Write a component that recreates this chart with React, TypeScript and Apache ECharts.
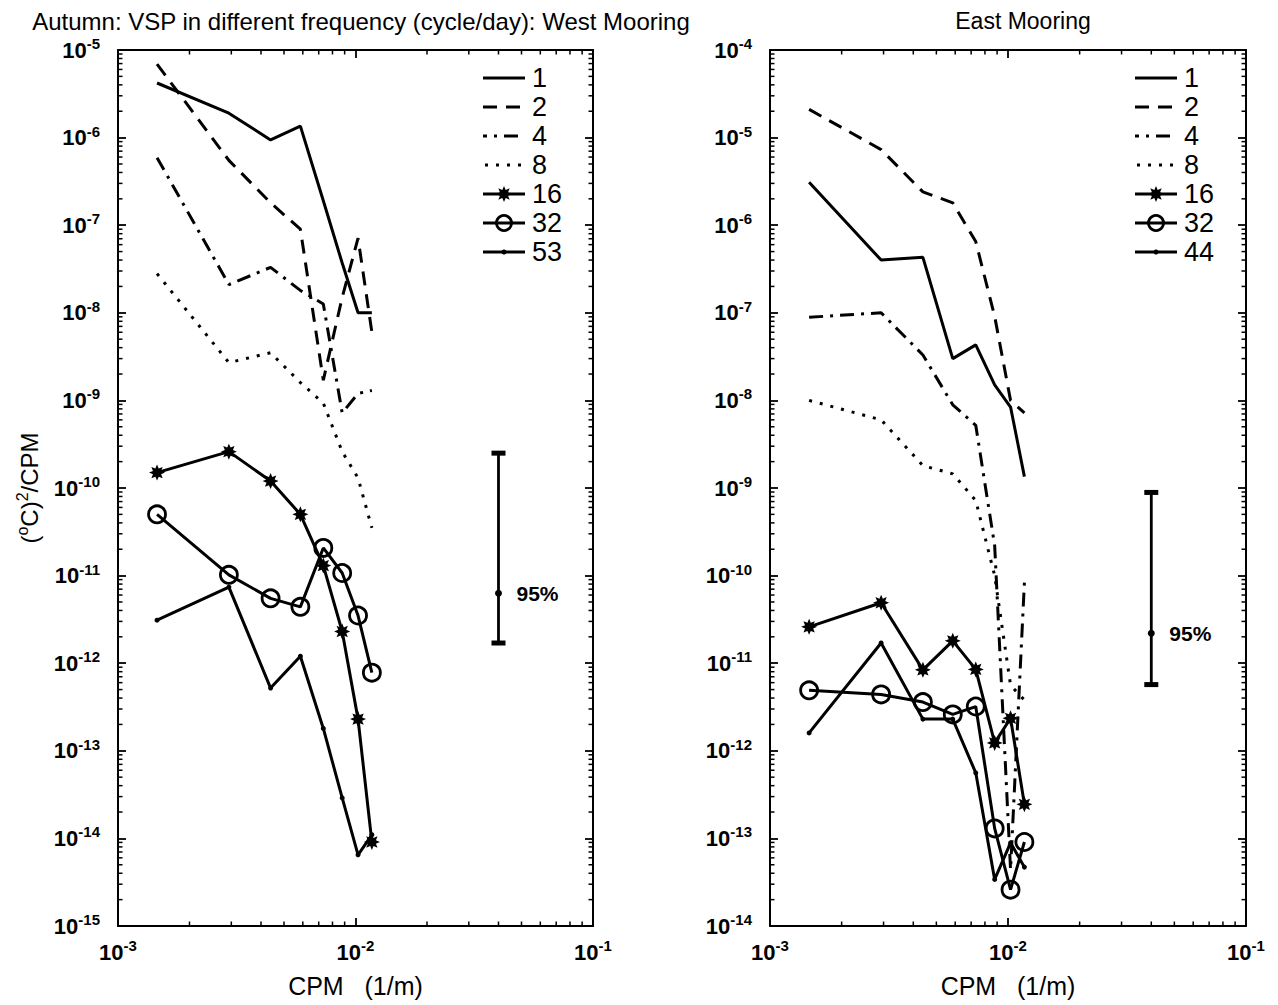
import React, { useEffect, useRef } from 'react';
import * as echarts from 'echarts';

// ---------- data ----------
const cpm = [0.00146, 0.00293, 0.00439, 0.00586, 0.00732, 0.00879, 0.01025, 0.01172];

const westNames = ['1', '2', '4', '8', '16', '32', '53'];
const west1 = [4.2e-6, 1.9e-6, 9.4e-7, 1.35e-6, 1.9e-7, 3.7e-8, 1.0e-8, 1.0e-8];
const west2 = [6.9e-6, 5.5e-7, 1.8e-7, 9.0e-8, 1.7e-9, 1.5e-8, 7.1e-8, 6.0e-9];
const west4 = [5.9e-7, 2.1e-8, 3.3e-8, 1.8e-8, 1.26e-8, 7.2e-10, 1.2e-9, 1.3e-9];
const west8 = [2.8e-8, 2.7e-9, 3.5e-9, 1.6e-9, 9.3e-10, 2.6e-10, 1.3e-10, 3.5e-11];
const west16 = [1.5e-10, 2.6e-10, 1.2e-10, 5.0e-11, 1.3e-11, 2.3e-12, 2.3e-13, 9.1e-15];
const west32 = [5.0e-11, 1.02e-11, 5.5e-12, 4.4e-12, 2.07e-11, 1.07e-11, 3.5e-12, 7.8e-13];
const west53 = [3.1e-12, 7.4e-12, 5.2e-13, 1.2e-12, 1.8e-13, 2.9e-14, 6.5e-15, 1.1e-14];

const eastNames = ['1', '2', '4', '8', '16', '32', '44'];
const east1 = [3.1e-6, 4.0e-7, 4.3e-7, 3.0e-8, 4.3e-8, 1.5e-8, 8.4e-9, 1.35e-9];
const east2 = [2.1e-5, 7.3e-6, 2.4e-6, 1.8e-6, 6.5e-7, 9.1e-8, 1.0e-8, 7.2e-9];
const east4 = [8.9e-8, 1.0e-7, 3.3e-8, 8.9e-9, 5.2e-9, 2.2e-10, 4.4e-14, 8.3e-11];
const east8 = [1.0e-8, 6.0e-9, 1.8e-9, 1.45e-9, 7.2e-10, 1.0e-10, 5.6e-12, 3.8e-12];
const east16 = [2.6e-11, 4.9e-11, 8.4e-12, 1.8e-11, 8.5e-12, 1.23e-12, 2.35e-12, 2.45e-13];
const east32 = [4.9e-12, 4.4e-12, 3.6e-12, 2.6e-12, 3.2e-12, 1.3e-13, 2.6e-14, 9.1e-14];
const east44 = [1.6e-12, 1.7e-11, 2.3e-12, 2.3e-12, 5.6e-13, 3.4e-14, 8.9e-14, 4.7e-14];

// 95% confidence bars: [x, low, high, centre]
const errWest = [0.04, 1.7e-12, 2.5e-10, 6.3e-12];
const errEast = [0.04, 5.7e-12, 8.9e-10, 2.2e-11];

const xRange = [1e-3, 1e-1];
const westYRange = [1e-15, 1e-5];
const eastYRange = [1e-14, 1e-4];
const minorMantissas = [2, 3, 4, 5, 6, 7, 8, 9];

const titles = ['Autumn: VSP in different frequency (cycle/day): West Mooring', 'East Mooring'];
const xName = 'CPM   (1/m)';
const yName = '({s|o}C){s|2}/CPM';

// ---------- styles ----------
const FONT = "'Liberation Sans', Arial, Helvetica, sans-serif";
const LW = 3;

function starPoints(cx: number, cy: number, R: number) {
  const pts: number[][] = [];
  for (let i = 0; i < 16; i++) {
    const a = (i * Math.PI) / 8 - Math.PI / 2;
    const r = i % 2 === 0 ? R : R * 0.55;
    pts.push([cx + r * Math.cos(a), cy + r * Math.sin(a)]);
  }
  return pts;
}
const starPath = 'path://' + starPoints(50, 50, 50).map((p, i) => (i === 0 ? 'M' : 'L') + p[0].toFixed(2) + ' ' + p[1].toFixed(2)).join(' ') + ' Z';

const lineStyles: any[] = [
  { lineType: 'solid', symbol: 'none' },
  { lineType: [14, 9], symbol: 'none' },
  { lineType: [14, 7, 3, 7], symbol: 'none' },
  { lineType: [3, 8], symbol: 'none' },
  { lineType: 'solid', symbol: starPath, size: 16, item: { color: '#000' } },
  { lineType: 'solid', symbol: 'circle', size: 17, item: { color: 'rgba(0,0,0,0)', borderColor: '#000', borderWidth: 2.8 } },
  { lineType: 'solid', symbol: 'circle', size: 5, item: { color: '#000' } },
];

function makeSeries(names: string[], values: number[][], gi: number) {
  return names.map((name, i) => {
    const st = lineStyles[i];
    return {
      type: 'line',
      name,
      xAxisIndex: gi * 2,
      yAxisIndex: gi * 2,
      data: cpm.map((x, k) => [x, values[i][k]]),
      symbol: st.symbol,
      symbolSize: st.size || 0,
      showSymbol: st.symbol !== 'none',
      itemStyle: st.item || { color: '#000' },
      lineStyle: { color: '#000', width: LW, type: st.lineType },
      silent: true,
      z: 3,
    };
  });
}

function minorTickSeries(gi: number, yr: number[]) {
  return {
    type: 'custom',
    xAxisIndex: gi * 2,
    yAxisIndex: gi * 2,
    silent: true,
    clip: false,
    data: [[1e-2, Math.sqrt(yr[0] * yr[1])]],
    renderItem: (params: any, api: any) => {
      const children: any[] = [];
      const st = { stroke: '#000', lineWidth: 1.5 };
      const L = 4.5;
      const xd0 = Math.round(Math.log10(xRange[0]));
      const xd1 = Math.round(Math.log10(xRange[1]));
      for (let d = xd0; d < xd1; d++) {
        minorMantissas.forEach((m) => {
          const v = m * Math.pow(10, d);
          const pb = api.coord([v, yr[0]]);
          const pt = api.coord([v, yr[1]]);
          children.push({ type: 'line', shape: { x1: pb[0], y1: pb[1], x2: pb[0], y2: pb[1] - L }, style: st });
          children.push({ type: 'line', shape: { x1: pt[0], y1: pt[1], x2: pt[0], y2: pt[1] + L }, style: st });
        });
      }
      const yd0 = Math.round(Math.log10(yr[0]));
      const yd1 = Math.round(Math.log10(yr[1]));
      for (let d = yd0; d < yd1; d++) {
        minorMantissas.forEach((m) => {
          const v = m * Math.pow(10, d);
          const pl = api.coord([xRange[0], v]);
          const pr = api.coord([xRange[1], v]);
          children.push({ type: 'line', shape: { x1: pl[0], y1: pl[1], x2: pl[0] + L, y2: pl[1] }, style: st });
          children.push({ type: 'line', shape: { x1: pr[0], y1: pr[1], x2: pr[0] - L, y2: pr[1] }, style: st });
        });
      }
      return { type: 'group', children };
    },
  };
}

function errSeries(gi: number, err: number[]) {
  return {
    type: 'custom',
    xAxisIndex: gi * 2,
    yAxisIndex: gi * 2,
    silent: true,
    clip: false,
    encode: { x: 0, y: [1, 2, 3] },
    data: [err],
    renderItem: (params: any, api: any) => {
      const lo = api.coord([api.value(0), api.value(1)]);
      const hi = api.coord([api.value(0), api.value(2)]);
      const mid = api.coord([api.value(0), api.value(3)]);
      return {
        type: 'group',
        children: [
          { type: 'line', shape: { x1: lo[0], y1: lo[1], x2: hi[0], y2: hi[1] }, style: { stroke: '#000', lineWidth: 2.8 } },
          { type: 'rect', shape: { x: hi[0] - 7, y: hi[1] - 2.5, width: 14, height: 5 }, style: { fill: '#000' } },
          { type: 'rect', shape: { x: lo[0] - 7, y: lo[1] - 2.5, width: 14, height: 5 }, style: { fill: '#000' } },
          { type: 'circle', shape: { cx: mid[0], cy: mid[1], r: 3.5 }, style: { fill: '#000' } },
          {
            type: 'text',
            x: mid[0] + 18,
            y: mid[1],
            style: { text: '95%', fill: '#000', fontSize: 21, fontWeight: 'bold', fontFamily: FONT, align: 'left', verticalAlign: 'middle' },
          },
        ],
      };
    },
  };
}

const richTick = {
  b: { fontSize: 22, fontWeight: 'bold', fontFamily: FONT, color: '#000' },
  s: { fontSize: 15, fontWeight: 'bold', fontFamily: FONT, color: '#000', padding: [0, 0, 13, 0] },
};
const tickFmt = (v: number) => `{b|10}{s|${Math.round(Math.log10(v))}}`;

function axesFor(gi: number, yr: number[]) {
  const axisLine = { show: true, lineStyle: { color: '#000', width: 2 } };
  const axisTick = { show: true, inside: true, length: 8, lineStyle: { color: '#000', width: 1.8 } };
  const xs = [
    {
      gridIndex: gi, type: 'log', logBase: 10, min: xRange[0], max: xRange[1], interval: 1, position: 'bottom',
      axisLine, axisTick, splitLine: { show: false },
      axisLabel: { formatter: tickFmt, rich: richTick, margin: 12 },
      name: xName, nameLocation: 'middle', nameGap: 47,
      nameTextStyle: { fontSize: 25, fontFamily: FONT, color: '#000' },
    },
    {
      gridIndex: gi, type: 'log', logBase: 10, min: xRange[0], max: xRange[1], interval: 1, position: 'top',
      axisLine, axisTick, splitLine: { show: false }, axisLabel: { show: false },
    },
  ];
  const ys = [
    {
      gridIndex: gi, type: 'log', logBase: 10, min: yr[0], max: yr[1], interval: 1, position: 'left',
      axisLine, axisTick, splitLine: { show: false },
      axisLabel: { formatter: tickFmt, rich: richTick, margin: 18 },
      ...(gi === 0
        ? {
            name: yName, nameLocation: 'middle', nameRotate: 90, nameGap: 74,
            nameTextStyle: {
              fontSize: 24, fontFamily: FONT, color: '#000',
              rich: { s: { fontSize: 16, fontFamily: FONT, color: '#000', padding: [0, 0, 14, 0] } },
            },
          }
        : {}),
    },
    {
      gridIndex: gi, type: 'log', logBase: 10, min: yr[0], max: yr[1], interval: 1, position: 'right',
      axisLine, axisTick, splitLine: { show: false }, axisLabel: { show: false },
    },
  ];
  return { xs, ys };
}

// legend drawn with graphic elements (line style per frequency)
function legendGraphic(names: string[], x0: number, y0: number) {
  const rowGap = 29;
  const w = 42;
  const els: any[] = [];
  names.forEach((name, i) => {
    const y = y0 + i * rowGap;
    const st = lineStyles[i];
    const dash = Array.isArray(st.lineType) ? st.lineType : null;
    els.push({
      type: 'line',
      shape: { x1: x0, y1: y, x2: x0 + w, y2: y },
      style: { stroke: '#000', lineWidth: LW, lineDash: dash, lineDashOffset: i === 2 ? 10 : i === 3 ? -2 : 0 },
    });
    if (i === 4) {
      els.push({ type: 'polygon', shape: { points: starPoints(x0 + w / 2, y, 8) }, style: { fill: '#000' } });
    } else if (i === 5) {
      els.push({ type: 'circle', shape: { cx: x0 + w / 2, cy: y, r: 7.5 }, style: { fill: 'none', stroke: '#000', lineWidth: 2.8 } });
    } else if (i === 6) {
      els.push({ type: 'circle', shape: { cx: x0 + w / 2, cy: y, r: 2.5 }, style: { fill: '#000' } });
    }
    els.push({
      type: 'text',
      x: x0 + w + 7,
      y,
      style: { text: name, fill: '#000', fontSize: 27, fontFamily: FONT, align: 'left', verticalAlign: 'middle' },
    });
  });
  return els;
}

export default function App() {
  const ref = useRef<HTMLDivElement>(null);
  useEffect(() => {
    document.body.style.margin = '0';
    const chart = echarts.init(ref.current!, null, { renderer: 'svg' });
    const a0 = axesFor(0, westYRange);
    const a1 = axesFor(1, eastYRange);
    chart.setOption({
      animation: false,
      backgroundColor: '#fff',
      textStyle: { fontFamily: FONT },
      title: [
        { text: titles[0], left: 356, top: 4, textAlign: 'center', textStyle: { fontSize: 24, fontWeight: 'normal', fontFamily: FONT, color: '#000' } },
        { text: titles[1], left: 1018, top: 4, textAlign: 'center', textStyle: { fontSize: 23, fontWeight: 'normal', fontFamily: FONT, color: '#000' } },
      ],
      grid: [
        { left: 118, top: 50, width: 475, height: 876 },
        { left: 770, top: 50, width: 476, height: 876 },
      ],
      graphic: [...legendGraphic(westNames, 483, 78), ...legendGraphic(eastNames, 1135, 78)],
      xAxis: [...a0.xs, ...a1.xs],
      yAxis: [...a0.ys, ...a1.ys],
      series: [
        ...makeSeries(westNames, [west1, west2, west4, west8, west16, west32, west53], 0),
        ...makeSeries(eastNames, [east1, east2, east4, east8, east16, east32, east44], 1),
        minorTickSeries(0, westYRange),
        minorTickSeries(1, eastYRange),
        errSeries(0, errWest),
        errSeries(1, errEast),
      ],
    });
    return () => chart.dispose();
  }, []);
  return <div ref={ref} style={{ width: 1278, height: 1005 }} />;
}
